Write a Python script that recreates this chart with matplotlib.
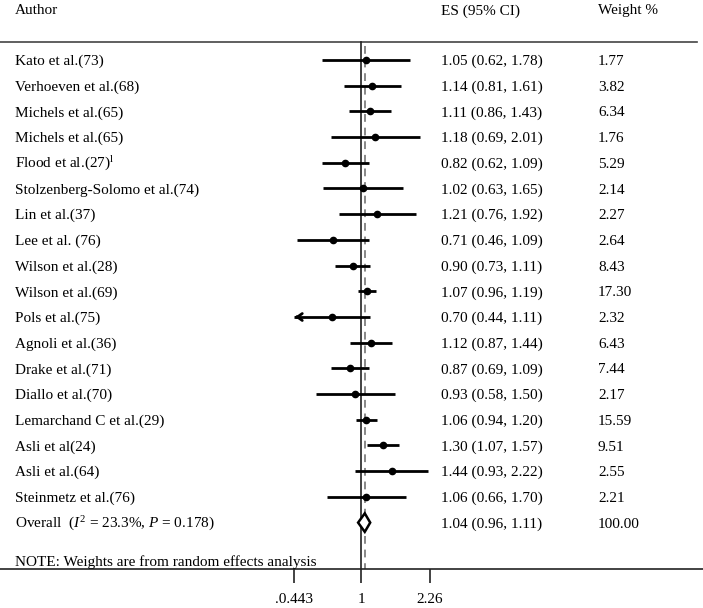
import numpy as np
import matplotlib
matplotlib.use("Agg")
import matplotlib.pyplot as plt
from matplotlib.patches import Polygon

plt.rcParams["font.family"] = ["Liberation Serif", "DejaVu Serif"]
plt.rcParams["mathtext.fontset"] = "custom"
plt.rcParams["mathtext.rm"] = "Liberation Serif"
plt.rcParams["mathtext.it"] = "Liberation Serif:italic"

# study data
authors = ["Kato et al.(73)", "Verhoeven et al.(68)", "Michels et al.(65)",
           "Michels et al.(65)", r"Flood et al.(27)$^{\mathrm{l}}$",
           "Stolzenberg-Solomo et al.(74)", "Lin et al.(37)", "Lee et al. (76)",
           "Wilson et al.(28)", "Wilson et al.(69)", "Pols et al.(75)",
           "Agnoli et al.(36)", "Drake et al.(71)", "Diallo et al.(70)",
           "Lemarchand C et al.(29)", "Asli et al(24)", "Asli et al.(64)",
           "Steinmetz et al.(76)"]
es = [1.05, 1.14, 1.11, 1.18, 0.82, 1.02, 1.21, 0.71, 0.90, 1.07, 0.70,
      1.12, 0.87, 0.93, 1.06, 1.30, 1.44, 1.06]
lo = [0.62, 0.81, 0.86, 0.69, 0.62, 0.63, 0.76, 0.46, 0.73, 0.96, 0.44,
      0.87, 0.69, 0.58, 0.94, 1.07, 0.93, 0.66]
hi = [1.78, 1.61, 1.43, 2.01, 1.09, 1.65, 1.92, 1.09, 1.11, 1.19, 1.11,
      1.44, 1.09, 1.50, 1.20, 1.57, 2.22, 1.70]
weights = [1.77, 3.82, 6.34, 1.76, 5.29, 2.14, 2.27, 2.64, 8.43, 17.30, 2.32,
           6.43, 7.44, 2.17, 15.59, 9.51, 2.55, 2.21]

overall_label = r"Overall  ($I^2$ = 23.3%, $P$ = 0.178)"
overall_es, overall_lo, overall_hi = 1.04, 0.96, 1.11
overall_weight = 100.00

tick_vals = [0.443, 1, 2.26]
tick_labels = [".0.443", "1", "2.26"]

W, H = 703, 608
fig = plt.figure(figsize=(W / 100, H / 100), dpi=100)
ax_bottom_px = 569
ax = fig.add_axes([0, 1 - ax_bottom_px / H, 1, ax_bottom_px / H])
ax.set_xscale("log")

# pixel layout -> data limits
row0_px, step_px = 60.0, 25.7
px_per_ln = 83.5
center_px = 361.5
ax.set_xlim(np.exp(-center_px / px_per_ln), np.exp((W - center_px) / px_per_ln))
ax.set_ylim((ax_bottom_px - row0_px) / step_px, -row0_px / step_px)

xmin, xmax = tick_vals[0], tick_vals[-1]
top_line = (42 - row0_px) / step_px
bottom = (ax_bottom_px - row0_px) / step_px
txt_dy = 0.06  # text sits a touch below the CI lines

ax.axhline(top_line, xmin=0, xmax=697 / W, color="#444444", lw=1.2)
ax.plot([1, 1], [top_line, bottom], color="#222222", lw=1.2, zorder=2)
ax.plot([overall_es, overall_es], [top_line + 0.15, bottom], color="#888888",
        lw=1.4, ls=(0, (4, 3)), zorder=1)

tr = ax.get_yaxis_transform()
fs = 11

for i in range(len(authors)):
    l = max(lo[i], xmin)
    h = min(hi[i], xmax)
    ax.plot([l, h], [i, i], color="black", lw=2.0, solid_capstyle="butt", zorder=3)
    if lo[i] < xmin:
        ax.annotate("", xy=(xmin * 0.985, i), xytext=(xmin * 1.08, i),
                    arrowprops=dict(arrowstyle="->,head_length=0.35,head_width=0.25",
                                    color="black", lw=2.0))
    ax.plot(es[i], i, marker="o", ms=4.5, color="black", zorder=4)
    y = i + txt_dy
    ax.text(15 / W, y, authors[i], transform=tr, fontsize=fs, va="center")
    ax.text(441 / W, y, f"{es[i]:.2f} ({lo[i]:.2f}, {hi[i]:.2f})",
            transform=tr, fontsize=fs, va="center")
    ax.text(598 / W, y, f"{weights[i]:.2f}", transform=tr, fontsize=fs, va="center")

r = len(authors)
dh = 0.36
diamond = Polygon([(overall_lo, r), (overall_es, r - dh), (overall_hi, r),
                   (overall_es, r + dh)], closed=True, facecolor="white",
                  edgecolor="black", lw=1.8, zorder=5)
ax.add_patch(diamond)
ax.text(15 / W, r + txt_dy, overall_label, transform=tr, fontsize=fs, va="center")
ax.text(441 / W, r + txt_dy, f"{overall_es:.2f} ({overall_lo:.2f}, {overall_hi:.2f})",
        transform=tr, fontsize=fs, va="center")
ax.text(598 / W, r + txt_dy, f"{overall_weight:.2f}", transform=tr, fontsize=fs,
        va="center")

note_y = (562 - row0_px) / step_px
ax.text(15 / W, note_y, "NOTE: Weights are from random effects analysis",
        transform=tr, fontsize=fs, va="center")

header_y = (11 - row0_px) / step_px
ax.text(15 / W, header_y, "Author", transform=tr, fontsize=fs, va="center")
ax.text(441 / W, header_y, "ES (95% CI)", transform=tr, fontsize=fs, va="center")
ax.text(598 / W, header_y, "Weight %", transform=tr, fontsize=fs, va="center")

for s in ["top", "left", "right"]:
    ax.spines[s].set_visible(False)
ax.spines["bottom"].set_linewidth(1.2)
ax.spines["bottom"].set_color("#222222")
ax.set_yticks([])
ax.set_xticks(tick_vals)
ax.set_xticklabels(tick_labels)
ax.xaxis.set_minor_locator(matplotlib.ticker.NullLocator())
ax.tick_params(axis="x", length=10, width=1.2, pad=7, labelsize=fs, color="#222222")

fig.savefig("out.png", dpi=100)
